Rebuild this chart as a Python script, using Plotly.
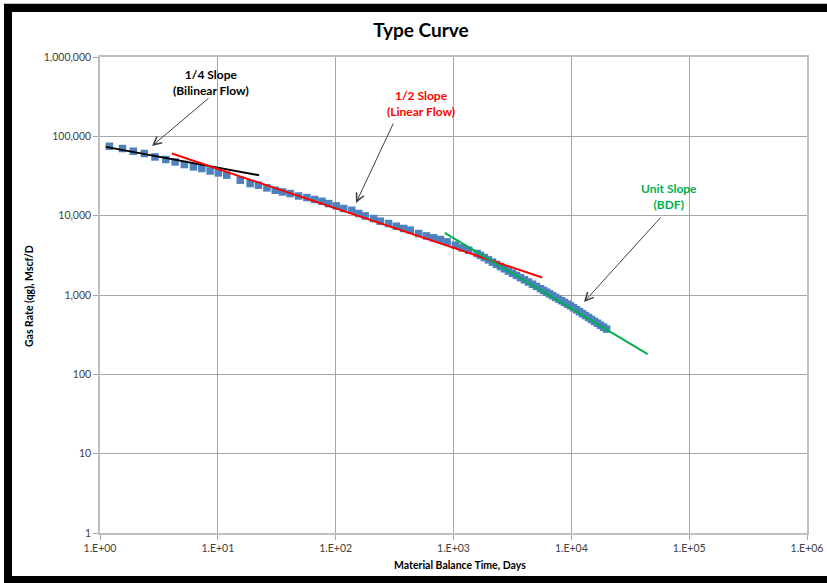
import plotly.graph_objects as go

# Material balance time (days) and gas rate (Mscf/D) of the type curve
mbt_days = [
    1.20, 1.55, 1.92, 2.38, 2.93, 3.62, 4.34, 5.20, 6.21, 7.31, 8.60, 10.1, 11.9,
    15.5, 18.8, 22.1, 26.1, 30.7, 35.4, 41.1, 48.4, 57.0, 66.2, 76.5, 87.1, 101,
    117, 137, 157, 178, 210, 239, 281, 327, 378, 430, 506, 589, 679, 774, 883,
    1038, 1183, 1346, 1586, 1692, 1830, 1979, 2141, 2315, 2503, 2707, 2927, 3166,
    3423, 3702, 4004, 4330, 4682, 5063, 5476, 5805, 6156, 6528, 6922, 7340, 7785,
    8255, 8754, 9284, 9844, 10440, 11070, 11740, 12450, 13200, 14000, 14840,
    15740, 16700, 17710, 18770, 19910,
]
gas_rate = [
    75000, 70200, 64900, 60700, 55000, 51000, 47600, 44100, 41200, 39300, 36600,
    34600, 32400, 28000, 25400, 24200, 22400, 20900, 19900, 19000, 17700, 16900,
    16000, 15200, 14200, 13300, 12300, 11700, 10650, 9930, 9210, 8520, 7960, 7370,
    6890, 6560, 5960, 5560, 5250, 5010, 4680, 4250, 3930, 3670, 3340, 3160, 2964,
    2773, 2594, 2434, 2283, 2136, 2003, 1880, 1764, 1655, 1552, 1457, 1367, 1282,
    1199, 1141, 1086, 1034, 984, 934, 889, 847, 806, 767, 730, 691, 652, 617, 582,
    551, 520, 492, 464, 440, 415, 393, 372,
]

# Flow-regime slope lines (end points)
bilinear_x = [1.12, 22.4]
bilinear_y = [73600, 32300]
linear_x = [4.07, 5660]
linear_y = [60700, 1664]
unit_x = [842, 44400]
unit_y = [6070, 180]

# Axis ticks
x_tick_vals = [1, 10, 100, 1000, 10000, 100000, 1000000]
x_tick_text = ["1.E+00", "1.E+01", "1.E+02", "1.E+03", "1.E+04", "1.E+05", "1.E+06"]
y_tick_vals = [1, 10, 100, 1000, 10000, 100000, 1000000]
y_tick_text = ["1", "10", "100", "1,000", "10,000", "100,000", "1,000,000"]

FONT = "Lato"
L, R, T, B = 100, 20, 57, 50
W, H = 827, 583
PW, PH = W - L - R, H - T - B


def px(x):
    return (x - L) / PW


def py(y):
    return (H - B - y) / PH


fig = go.Figure()
fig.add_trace(go.Scatter(
    x=mbt_days, y=gas_rate, mode="markers",
    marker=dict(symbol="square", size=7.5, color="#4F81BD"),
    name="Gas Rate",
))
fig.add_trace(go.Scatter(x=bilinear_x, y=bilinear_y, mode="lines",
                         line=dict(color="#000000", width=2), name="1/4 Slope"))
fig.add_trace(go.Scatter(x=linear_x, y=linear_y, mode="lines",
                         line=dict(color="#FF0000", width=2), name="1/2 Slope"))
fig.add_trace(go.Scatter(x=unit_x, y=unit_y, mode="lines",
                         line=dict(color="#00B050", width=2), name="Unit Slope"))

axis_common = dict(
    type="log", range=[0, 6], showgrid=True, gridcolor="#A6A6A6", gridwidth=1,
    ticks="outside", ticklen=5, tickcolor="#A6A6A6", showline=True,
    linecolor="#BFBFBF", linewidth=1.5, mirror=True, zeroline=False,
    automargin=False,
    tickfont=dict(family=FONT, size=10.5, color="#404040"),
)

fig.update_layout(
    width=W, height=H,
    margin=dict(l=L, r=R, t=T, b=B),
    paper_bgcolor="white", plot_bgcolor="white",
    showlegend=False,
    title=dict(text="Type Curve", x=421 / W, xref="container", xanchor="center",
               y=1 - 30 / H, yref="container", yanchor="middle",
               font=dict(family=FONT, size=19, color="#000000", weight="bold")),
    xaxis=dict(tickvals=x_tick_vals, ticktext=x_tick_text, **axis_common),
    yaxis=dict(tickvals=y_tick_vals, ticktext=y_tick_text, **axis_common),
)

annotations = [
    # axis titles
    dict(text="<b>Material Balance Time, Days</b>", x=px(460), y=py(565),
         font=dict(family=FONT, size=10.5, color="#000000")),
    dict(text="<b>Gas Rate (qg), Mscf/D</b>", x=px(29), y=py(296), textangle=-90,
         font=dict(family=FONT, size=10.5, color="#000000")),
    # flow-regime labels
    dict(text="<b>1/4 Slope</b><br><b>(Bilinear Flow)</b>", x=px(211), y=py(82),
         font=dict(family=FONT, size=12, color="#000000")),
    dict(text="<b>1/2 Slope</b><br><b>(Linear Flow)</b>", x=px(421), y=py(103),
         font=dict(family=FONT, size=12, color="#FF0000")),
    dict(text="<b>Unit Slope</b><br><b>(BDF)</b>", x=px(669), y=py(197),
         font=dict(family=FONT, size=12, color="#00B050")),
]
for a in annotations:
    a.update(xref="paper", yref="paper", showarrow=False,
             xanchor="center", yanchor="middle")

# pointer arrows: (tip x, tip y, tail x, tail y) in pixels
arrows = [(152, 146, 210, 97), (356, 203, 394, 122), (584, 302, 662, 216)]
for tx, ty, sx, sy in arrows:
    annotations.append(dict(
        text="", x=px(tx), y=py(ty), xref="paper", yref="paper",
        ax=sx - tx, ay=sy - ty, axref="pixel", ayref="pixel",
        showarrow=True, arrowhead=5, arrowsize=1.6, arrowwidth=1,
        arrowcolor="#404040",
    ))
fig.update_layout(annotations=annotations)

# outer frame
frame = [
    (4, 3, 827, 4, "#BFBFBF"),
    (4, 4, 827, 12, "#000000"),
    (4, 4, 12, 583, "#000000"),
    (4, 576, 827, 583, "#000000"),
]
fig.update_layout(shapes=[
    dict(type="rect", xref="paper", yref="paper", x0=px(x0), x1=px(x1),
         y0=py(y1), y1=py(y0), fillcolor=c, line=dict(width=0), layer="above")
    for x0, y0, x1, y1, c in frame
])

fig.write_html("out.html")
